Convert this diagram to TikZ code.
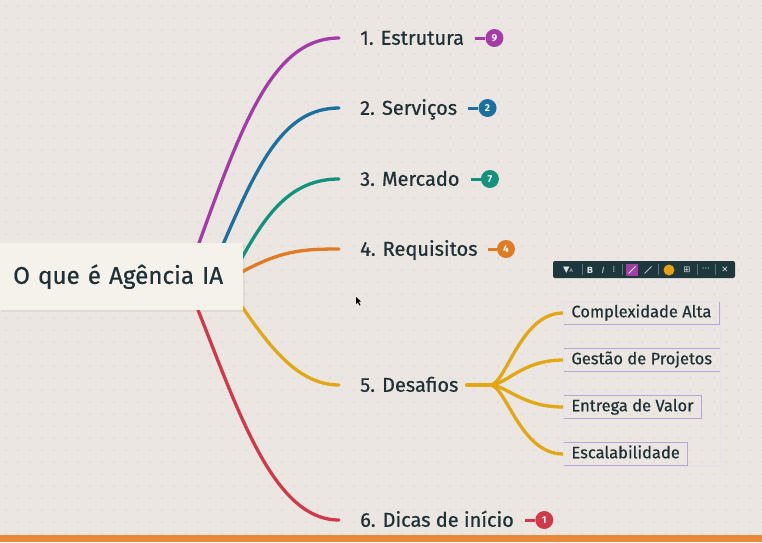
\documentclass[tikz,border=0pt]{standalone}
\usepackage{fontspec}
\setmainfont{Fira Sans}
\newfontfamily\medfont[FakeBold=0.6]{Fira Sans}
\newfontfamily\symfont{DejaVu Sans}
\usetikzlibrary{positioning,backgrounds,fit}
\definecolor{paperBg}{HTML}{EBE6E2}
\definecolor{dotGray}{HTML}{D3CCC8}
\definecolor{rootFill}{HTML}{F5F1EB}
\definecolor{inkDark}{HTML}{1F3036}
\definecolor{brPurple}{HTML}{A43CA8}
\definecolor{brBlue}{HTML}{1C70A0}
\definecolor{brTeal}{HTML}{13917C}
\definecolor{brOrange}{HTML}{DF7B22}
\definecolor{brYellow}{HTML}{E2A714}
\definecolor{brRed}{HTML}{D0394A}
\definecolor{leafLine}{HTML}{B9A4D6}
\definecolor{toolDark}{HTML}{1E373D}
\definecolor{barOrange}{HTML}{E98A3B}

\begin{document}
\begin{tikzpicture}[x=1pt,y=-1pt,
  root/.style={rectangle,fill=rootFill,anchor=north west,minimum width=243pt,minimum height=67pt,
               text width=217pt,align=left,inner xsep=13pt,font=\medfont\fontsize{24.2}{27}\selectfont,text=inkDark},
  branch/.style={anchor=west,inner sep=0pt,font=\medfont\fontsize{20}{22}\selectfont,text=inkDark,
                 text height=14pt,text depth=0.5pt},
  badge/.style={circle,fill=#1,text=white,inner sep=0pt,minimum size=18pt,
                font=\fontsize{10}{10}\selectfont\bfseries},
  stub/.style={line width=3pt,#1},
  br/.style={line width=3.3pt,line cap=round,#1},
  leaf/.style={rectangle,draw=leafLine,line width=0.9pt,anchor=west,inner xsep=8pt,minimum height=23pt,
               font=\medfont\fontsize{16.5}{18}\selectfont,text=inkDark,text height=12pt,text depth=3.5pt},
  tool/.style={text=white!85!toolDark,inner sep=0pt,font=\symfont\fontsize{8.5}{8.5}\selectfont},
  tsep/.style={white!30!toolDark,line width=0.5pt}
]
  \useasboundingbox (0,0) rectangle (762,542);

  % root and branch labels
  \node[root] (root) at (0,243) {O que é Agência IA};
  \node[branch] (b1) at (360,38)  {1. Estrutura};
  \node[branch] (b2) at (360,108) {2. Serviços};
  \node[branch] (b3) at (360,179) {3. Mercado};
  \node[branch] (b4) at (360,249) {4. Requisitos};
  \node[branch] (b5) at (360,385) {5. Desafios};
  \node[branch] (b6) at (360,520) {6. Dicas de início};

  % leaves of 5
  \node[leaf] (l1) at (563,313) {Complexidade Alta};
  \node[leaf] (l2) at (563,360) {Gestão de Projetos};
  \node[leaf] (l3) at (563,407) {Entrega de Valor};
  \node[leaf] (l4) at (563,454) {Escalabilidade};
  \node[fit=(l1)(l2)(l3)(l4),inner sep=0pt,draw=leafLine!35,line width=0.5pt] (lbox) {};

  % curve starts hidden behind the root
  \coordinate (s1) at (190,268);
  \coordinate (s2) at (212,270);
  \coordinate (s3) at (238,265);
  \coordinate (s4) at (238,274);
  \coordinate (s5) at (236,298);
  \coordinate (s6) at (190,290);
  \coordinate (hub) at (490,385);

  \begin{scope}[on background layer]
    \fill[paperBg] (0,0) rectangle (762,542);
    \foreach \x in {6,18,...,762}
      \foreach \y in {6,18,...,534}
        \fill[dotGray] (\x,\y) circle (0.75);
    \fill[black,opacity=0.05] (1,244) rectangle (245,311.5);
    \draw[br=brPurple] (s1) .. controls (240,130) and (270,38) .. ([xshift=-21pt]b1.west);
    \draw[br=brBlue]   (s2) .. controls (255,170) and (280,108) .. ([xshift=-21pt]b2.west);
    \draw[br=brTeal]   (s3) .. controls (265,215) and (290,179) .. ([xshift=-21pt]b3.west);
    \draw[br=brOrange] (s4) .. controls (280,251) and (300,249) .. ([xshift=-21pt]b4.west);
    \draw[br=brYellow] (s5) .. controls (265,340) and (295,385) .. ([xshift=-21pt]b5.west);
    \draw[br=brRed]    (s6) .. controls (235,400) and (270,520) .. ([xshift=-21pt]b6.west);
    \draw[br=brYellow] ([xshift=8pt]b5.east) -- (hub);
    \draw[br=brYellow] (hub) .. controls (506,385) and (520,313) .. (l1.west);
    \draw[br=brYellow] (hub) .. controls (506,385) and (522,360) .. (l2.west);
    \draw[br=brYellow] (hub) .. controls (506,385) and (522,407) .. (l3.west);
    \draw[br=brYellow] (hub) .. controls (506,385) and (520,454) .. (l4.west);
  \end{scope}

  % count badges
  \node[badge=brPurple] (n1) [right=21pt of b1] {9};
  \node[badge=brBlue]   (n2) [right=21pt of b2] {2};
  \node[badge=brTeal]   (n3) [right=21pt of b3] {7};
  \node[badge=brOrange] (n4) [right=19pt of b4] {4};
  \node[badge=brRed]    (n6) [right=21pt of b6] {1};
  \begin{scope}[on background layer]
    \draw[stub=brPurple] ([xshift=11pt]b1.east) -- (n1);
    \draw[stub=brBlue]   ([xshift=11pt]b2.east) -- (n2);
    \draw[stub=brTeal]   ([xshift=11pt]b3.east) -- (n3);
    \draw[stub=brOrange] ([xshift=10pt]b4.east) -- (n4);
    \draw[stub=brRed]    ([xshift=11pt]b6.east) -- (n6);
  \end{scope}

  % format toolbar
  \node[rectangle,rounded corners=2pt,fill=toolDark,minimum width=182pt,minimum height=17pt,inner sep=0pt]
    (tb) at (644,269.5) {};
  \node[tool] (tfilter) at (568,270) {▼\fontsize{5}{5}\selectfont A};
  \node[tool] (tbold)   at (590,270) {\textbf{B}};
  \node[tool] (titalic) at (603,270) {\textit{I}};
  \node[tool] (tmore)   at (614,270) {⁞};
  \node[rectangle,fill=brPurple,minimum size=12pt,inner sep=0pt] (tpen) at (632,270) {};
  \draw[white,line width=0.8pt] ([shift={(-3.5,3.5)}]tpen.center) -- ([shift={(3.5,-3.5)}]tpen.center);
  \coordinate (tline) at (648,270);
  \draw[white!70!toolDark,line width=0.8pt] ([shift={(-3.5,3.5)}]tline) -- ([shift={(3.5,-3.5)}]tline);
  \node[circle,fill=brYellow!80!orange,minimum size=11pt,inner sep=0pt] (tcol) at (669,270) {};
  \node[tool] (tgrid)   at (687,270) {⊞};
  \node[tool] (tdots)   at (706,270) {···};
  \node[tool] (tclose)  at (725,270) {✕};
  \foreach \sx in {582,622,658,697,715}
    \draw[tsep] (\sx,264) -- (\sx,275);

  % mouse pointer
  \fill[black] (356,297) -- (356,304) -- (357.8,302.3) -- (359.5,305.5) -- (360.5,305) -- (358.8,301.8) -- (361,301.5) -- cycle;

  % bottom bar
  \fill[barOrange] (0,535) rectangle (762,542);
\end{tikzpicture}
\end{document}
